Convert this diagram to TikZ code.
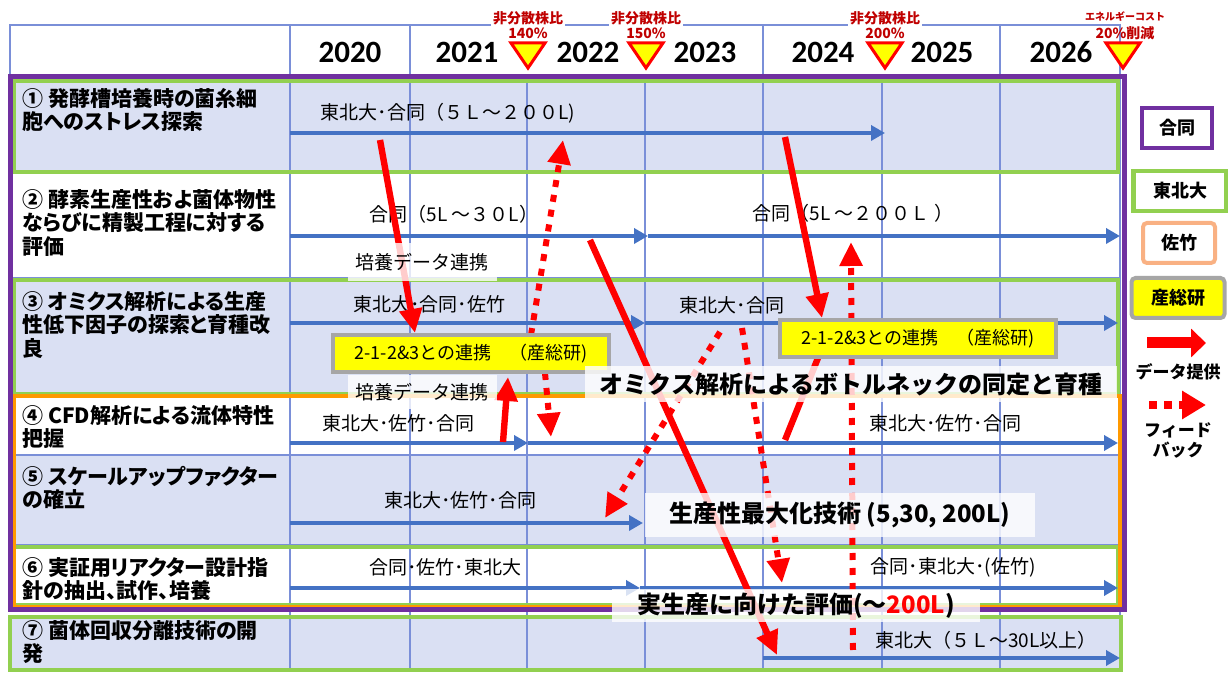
\documentclass[tikz,border=0pt]{standalone}
\usepackage{fontspec}
\setmainfont{Noto Sans CJK JP}
\newfontfamily\yearfont{Carlito}
\usetikzlibrary{arrows.meta}
\definecolor{grape}{HTML}{7030A0}
\definecolor{leaf}{HTML}{92D050}
\definecolor{amber}{HTML}{FF9900}
\definecolor{peach}{HTML}{F9B183}
\definecolor{stone}{HTML}{A6A6A6}
\definecolor{bar}{HTML}{4472C4}
\definecolor{rule}{HTML}{7A8FD8}
\definecolor{hatch}{HTML}{DAE0F3}
\definecolor{alert}{HTML}{FF0000}
\definecolor{wine}{HTML}{C00000}
\definecolor{lemon}{HTML}{FFFF00}

\begin{document}
\begin{tikzpicture}[x=0.5pt,y=-0.5pt,
  every node/.style={inner sep=0pt},
  rowlab/.style={anchor=north west,align=left,font=\bfseries\fontsize{10.5}{11.7}\selectfont\addfontfeatures{RawFeature=+palt}},
  cell/.style={font=\fontsize{9.5}{11}\selectfont},
  year/.style={font=\yearfont\bfseries\fontsize{15.5}{16}\selectfont},
  mile/.style={font=\bfseries\fontsize{7}{8}\selectfont,text=wine},
  thin/.style={draw=rule,line width=0.6pt},
  plan/.style={draw=bar,line width=2.4pt,-{Triangle[length=7pt,width=7.5pt]}},
  data/.style={draw=alert,line width=3.2pt,-{Triangle[length=12pt,width=11pt]}},
  feed/.style={draw=alert,line width=3pt,dash pattern=on 3.5pt off 4pt,-{Triangle[length=12pt,width=11pt]}},
  lnk/.style={fill=lemon,draw=stone,line width=2pt,minimum width=138pt,minimum height=18.5pt,font=\fontsize{9}{10}\selectfont},
  veil/.style={fill=white,fill opacity=0.8,text opacity=1},
  banner/.style={veil,font=\bfseries\fontsize{12}{13}\selectfont},
  legendbox/.style={fill=white,line width=2pt,minimum height=20pt,font=\bfseries\fontsize{9}{10}\selectfont}]
  \useasboundingbox (0,0) rectangle (1228,673);
  \fill[white] (0,0) rectangle (1228,673);
  % shaded rows
  \foreach \ya/\yb in {80/172, 280/394, 455/546, 616/670}
    \fill[hatch] (12,\ya) rectangle (1120,\yb);
  % table rules
  \draw[thin] (10,25) rectangle (1120,75);
  \foreach \x in {290,410,763,1000} \draw[thin] (\x,25) -- (\x,75);
  \foreach \x in {290,410,527,645,763,882,1000,1120} \draw[thin] (\x,75) -- (\x,670);
  \foreach \y in {172,278,395,455,545,605,670} \draw[thin] (10,\y) -- (1120,\y);
  % partner frames
  \draw[leaf,line width=2pt] (14,81) rectangle (1118,172);
  \draw[leaf,line width=2pt] (14,280) rectangle (1118,394);
  \draw[leaf,line width=2pt] (14,547) rectangle (1118,605);
  \draw[amber,line width=2pt] (14,396) rectangle (1120,607);
  \draw[leaf,line width=2pt] (10,617) rectangle (1121,670);
  \draw[grape,line width=2.5pt] (10,77) rectangle (1124,610);

  \foreach \x/\yr in {350/2020, 467/2021, 588/2022, 705/2023, 823/2024, 942/2025, 1061/2026}
    \node[year] (y\yr) at (\x,52) {\yr};
  \foreach \n/\x/\pct in {a/528/140\%, b/646/150\%, c/885/200\%}
  {
    \filldraw[fill=lemon,draw=alert,line width=1.5pt] (\x-17,43) -- (\x+17,43) -- (\x,68) -- cycle;
    \node[mile,fill=white,inner sep=1pt] (m\n) at (\x,18) {非分散株比};
    \node[mile] (q\n) at (\x,33) {\pct};
  }
  \filldraw[fill=lemon,draw=alert,line width=1.5pt] (1106,43) -- (1140,43) -- (1123,68) -- cycle;
  \node[mile,fill=white,inner sep=1pt,font=\bfseries\fontsize{5}{6}\selectfont] (md) at (1125,17) {エネルギーコスト};
  \node[mile] (qd) at (1125,33) {20\%削減};

  \foreach \n/\y/\lab in {1/88/{① 発酵槽培養時の菌糸細\\胞へのストレス探索},
      2/189/{② 酵素生産性およ菌体物性\\ならびに精製工程に対する\\評価},
      3/291/{③ オミクス解析による生産\\性低下因子の探索と育種改\\良},
      4/405/{④ CFD解析による流体特性\\把握},
      5/466/{⑤ スケールアップファクター\\の確立},
      6/557/{⑥ 実証用リアクター設計指\\針の抽出、試作、培養},
      7/620/{⑦ 菌体回収分離技術の開\\発}}
    \node[rowlab] (lab\n) at (22,\y) {\lab};

  % schedule bars
  \foreach \n/\y/\xa/\xb in {p1/133/290/885, p2a/236/290/648, p2b/236/648/1120,
      p3a/323/290/645, p3b/323/645/1118, p4a/443/290/528, p4b/443/528/1118,
      p5/523/290/643, p6a/588/290/640, p6b/588/640/1118, p7/658/763/1120}
  {
    \coordinate (\n0) at (\xa,\y);
    \coordinate (\n1) at (\xb,\y);
    \draw[plan] (\n0) -- (\n1);
  }

  \node[cell] (t1) at (448,113) {東北大･合同（５Ｌ～２００L)};
  \node[cell] (t2a) at (454,214) {合同（5L ～３０L）};
  \node[cell] (t2b) at (853,213) {合同（5L ～２００Ｌ ）};
  \node[cell] (t3a) at (429,304) {東北大･合同･佐竹};
  \node[cell] (t3b) at (732,305) {東北大･合同};
  \node[cell] (t4a) at (398,423) {東北大･佐竹･合同};
  \node[cell] (t4b) at (945,423) {東北大･佐竹･合同};
  \node[cell] (t5) at (460,500) {東北大･佐竹･合同};
  \node[cell] (t6a) at (445,567) {合同･佐竹･東北大};
  \node[cell] (t6b) at (953,567) {合同･東北大･(佐竹)};
  \node[cell] (t7) at (986,640) {東北大（５Ｌ～30L以上）};

  % data and feedback arrows
  \foreach \n/\a/\b in {d1/{380,140}/{415,333}, d2/{503,442}/{508,377},
      d3/{590,240}/{777,655}, d4/{785,137}/{822,318}}
  {
    \coordinate (\n0) at (\a);
    \coordinate (\n1) at (\b);
    \draw[data] (\n0) -- (\n1);
  }
  \coordinate (d50) at (785,440);
  \coordinate (d51) at (818,358);
  \draw[data,-] (d50) -- (d51);
  \foreach \n/\a/\b in {f1/{531,335}/{563,140}, f2/{545,373}/{551,437},
      f3/{720,332}/{605,518}, f4/{742,328}/{782,583}, f5/{853,650}/{851,242}}
  {
    \coordinate (\n0) at (\a);
    \coordinate (\n1) at (\b);
    \draw[feed] (\n0) -- (\n1);
  }

  \node[lnk] (lnkA) at (471,354) {2-1-2\&3との連携　（産総研)};
  \node[lnk] (lnkB) at (918,339) {2-1-2\&3との連携　（産総研)};

  \node[veil,cell,minimum width=74.5pt,minimum height=19pt] (c2) at (422,262) {培養データ連携};
  \node[veil,cell,minimum width=74.5pt,minimum height=17pt] (c3) at (422,392) {培養データ連携};
  \node[banner,minimum width=266pt,minimum height=18pt] (bOmics) at (851,384) {オミクス解析によるボトルネックの同定と育種};
  \node[banner,minimum width=195pt,minimum height=22pt] (bMax) at (840,515) {生産性最大化技術 (5,30, 200L)};
  \node[banner,minimum width=184pt,minimum height=16.5pt] (bEval) at (796,606) {実生産に向けた評価(～\textcolor{alert}{200L})};

  % legend
  \node[legendbox,draw=grape,minimum width=35pt,line width=1.8pt] (kGodo) at (1177,128) {合同};
  \node[legendbox,draw=leaf,minimum width=46.5pt,line width=2.2pt] (kTohoku) at (1180,191) {東北大};
  \node[legendbox,draw=peach,minimum width=36pt,rounded corners=2pt] (kSatake) at (1179,243) {佐竹};
  \node[legendbox,draw=stone,fill=lemon,minimum width=46.5pt,rounded corners=2pt] (kAist) at (1178,298) {産総研};
  \coordinate (kd0) at (1147,343);
  \coordinate (kd1) at (1206,343);
  \draw[alert,line width=5.5pt,-{Triangle[length=7.5pt,width=14pt]}] (kd0) -- (kd1);
  \node[font=\bfseries\fontsize{8.5}{9}\selectfont] (kData) at (1178,372) {データ提供};
  \coordinate (kf0) at (1149,405);
  \coordinate (kf1) at (1206,405);
  \draw[alert,line width=4pt,dash pattern=on 4pt off 3.5pt,-{Triangle[length=12pt,width=13.5pt]}] (kf0) -- (kf1);
  \node[align=center,font=\bfseries\fontsize{8.5}{10}\selectfont] (kFeed) at (1178,440) {フィード\\バック};
\end{tikzpicture}
\end{document}
